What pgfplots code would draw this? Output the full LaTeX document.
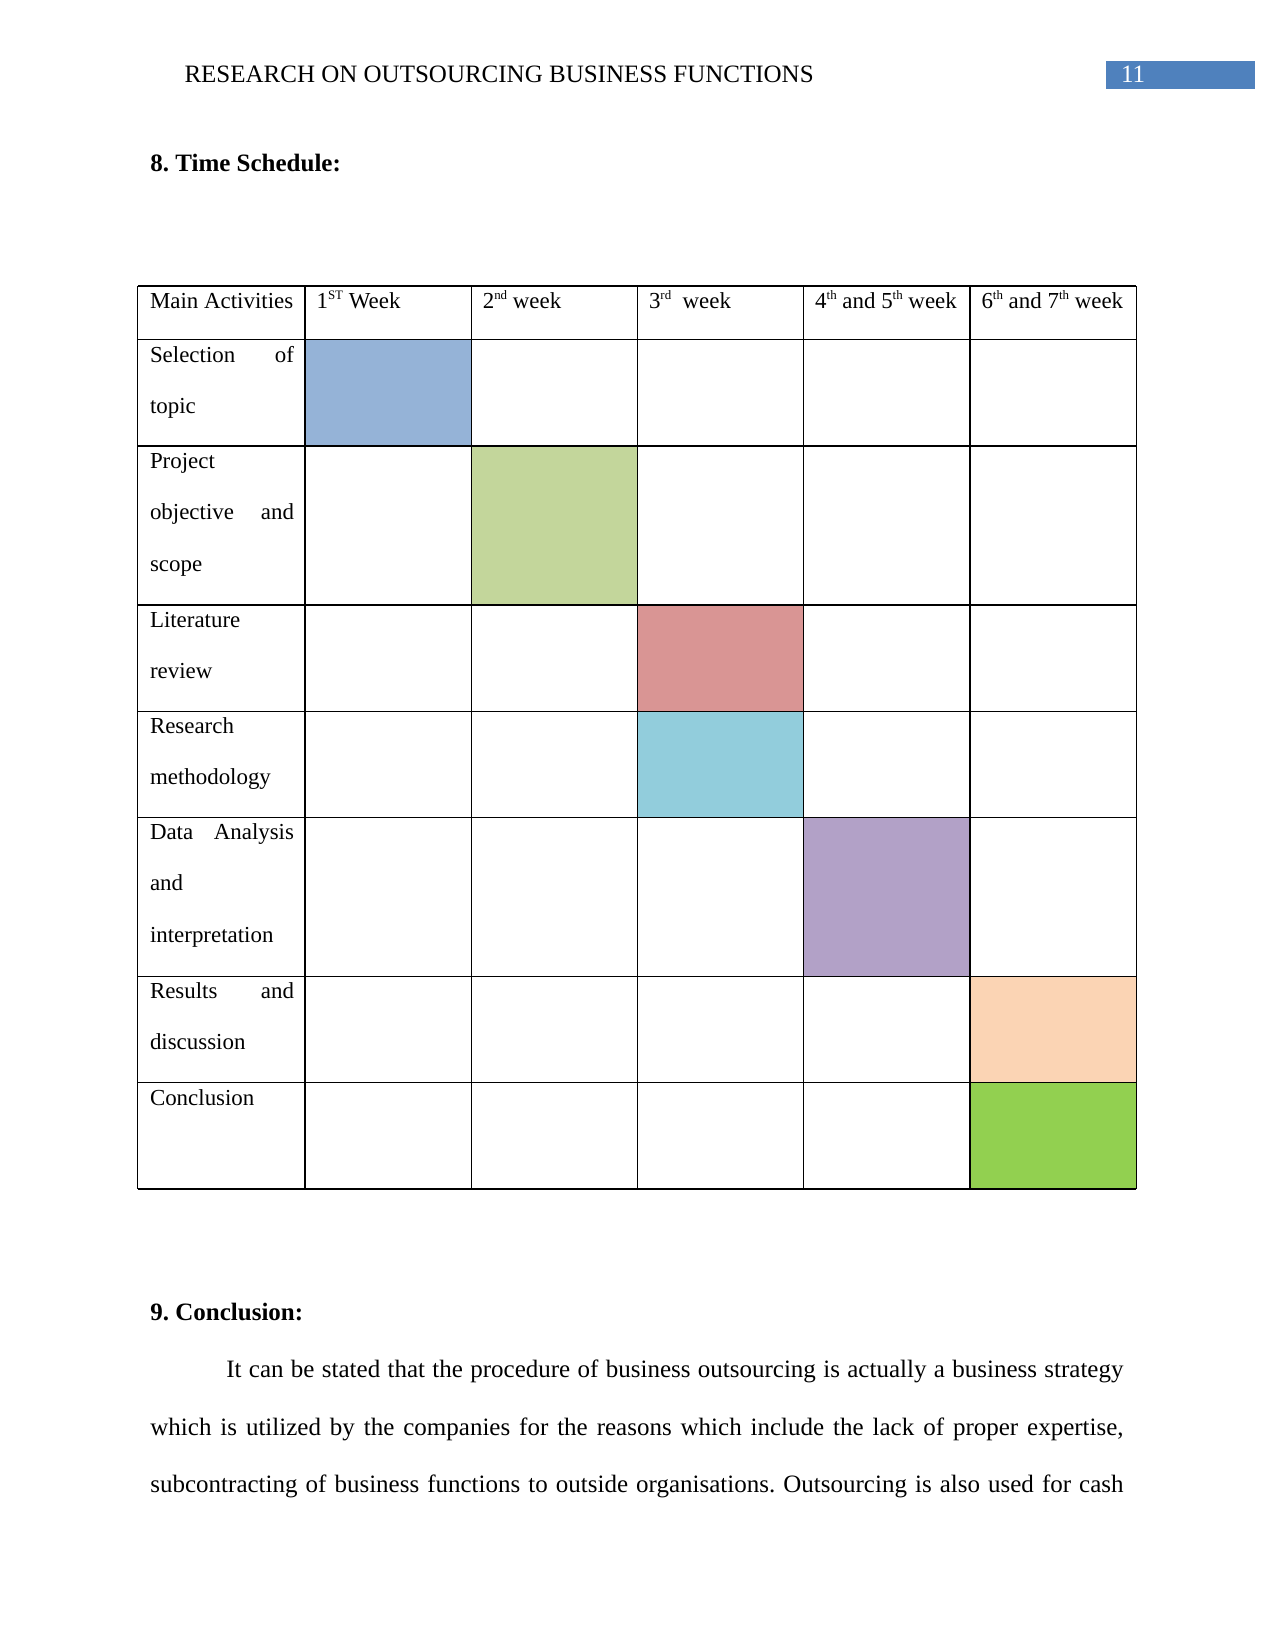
\documentclass[border=0pt]{standalone}
\usepackage{fontspec}
\setmainfont{Liberation Serif}
\usepackage{pgfplots}
\pgfplotsset{compat=1.18}
\newlength{\px}\setlength{\px}{0.0066667in}
\definecolor{cBlue}{HTML}{95B3D7}
\definecolor{cOlive}{HTML}{C3D69B}
\definecolor{cRed}{HTML}{D99594}
\definecolor{cAqua}{HTML}{92CDDC}
\definecolor{cPurple}{HTML}{B2A1C7}
\definecolor{cPeach}{HTML}{FBD4B4}
\definecolor{cGreen}{HTML}{92D050}
\definecolor{cHead}{HTML}{4F81BD}
\newcommand{\sz}{\fontsize{12bp}{14bp}\selectfont\frenchspacing}
\newcommand{\tsz}{\fontsize{11bp}{13bp}\selectfont\frenchspacing}
\newcommand{\wsup}[1]{\raisebox{4.2bp}{\fontsize{6.2bp}{7bp}\selectfont #1}}
\begin{document}
\begin{tikzpicture}[txt/.style={inner sep=0pt, outer sep=0pt, font=\sz, anchor=base west},
                    cell/.style={txt, font=\tsz}]
\fill[white, use as bounding box] (0,0) rectangle (8.5in,11in);
\begin{axis}[
  at={(0,0)}, anchor=south west,
  width=8.5in, height=11in, scale only axis,
  xmin=0, xmax=1275, ymin=0, ymax=1650, y dir=reverse,
  hide axis, clip=false,
]
% page-number box
\addplot[fill=cHead, draw=none] coordinates {(1106,61)(1255,61)(1255,89)(1106,89)} -- cycle;
% coloured cells (week x activity)
\addplot[fill=cBlue,   draw=none] coordinates {(305.1,339.8)(471.3,339.8)(471.3,446.0)(305.1,446.0)} -- cycle;
\addplot[fill=cOlive,  draw=none] coordinates {(471.3,446.0)(637.5,446.0)(637.5,604.9)(471.3,604.9)} -- cycle;
\addplot[fill=cRed,    draw=none] coordinates {(637.5,604.9)(803.7,604.9)(803.7,711.2)(637.5,711.2)} -- cycle;
\addplot[fill=cAqua,   draw=none] coordinates {(637.5,711.2)(803.7,711.2)(803.7,817.4)(637.5,817.4)} -- cycle;
\addplot[fill=cPurple, draw=none] coordinates {(803.7,817.4)(970.0,817.4)(970.0,976.3)(803.7,976.3)} -- cycle;
\addplot[fill=cPeach,  draw=none] coordinates {(970.0,976.3)(1136.2,976.3)(1136.2,1082.5)(970.0,1082.5)} -- cycle;
\addplot[fill=cGreen,  draw=none] coordinates {(970.0,1082.5)(1136.2,1082.5)(1136.2,1189.0)(970.0,1189.0)} -- cycle;
% horizontal rules
\addplot[black, line width=0.6pt] coordinates {(137.8,286.1)(1136.2,286.1)};
\addplot[black, line width=0.6pt] coordinates {(137.8,339.8)(1136.2,339.8)};
\addplot[black, line width=0.6pt] coordinates {(137.8,446.0)(1136.2,446.0)};
\addplot[black, line width=0.6pt] coordinates {(137.8,604.9)(1136.2,604.9)};
\addplot[black, line width=0.6pt] coordinates {(137.8,711.2)(1136.2,711.2)};
\addplot[black, line width=0.6pt] coordinates {(137.8,817.4)(1136.2,817.4)};
\addplot[black, line width=0.6pt] coordinates {(137.8,976.3)(1136.2,976.3)};
\addplot[black, line width=0.6pt] coordinates {(137.8,1082.5)(1136.2,1082.5)};
\addplot[black, line width=0.9pt] coordinates {(137.8,1189.0)(1136.2,1189.0)};
% vertical rules
\addplot[black, line width=0.6pt] coordinates {(137.8,286.1)(137.8,1189.0)};
\addplot[black, line width=0.9pt] coordinates {(305.1,286.1)(305.1,1189.0)};
\addplot[black, line width=0.6pt] coordinates {(471.3,286.1)(471.3,1189.0)};
\addplot[black, line width=0.6pt] coordinates {(637.5,286.1)(637.5,1189.0)};
\addplot[black, line width=0.6pt] coordinates {(803.7,286.1)(803.7,1189.0)};
\addplot[black, line width=0.9pt] coordinates {(970.0,286.1)(970.0,1189.0)};
\addplot[black, line width=0.6pt] coordinates {(1136.2,286.1)(1136.2,1189.0)};

% running head
\node[txt] at (axis cs:184.5,82.5) {RESEARCH ON OUTSOURCING BUSINESS FUNCTIONS};
\node[txt, text=white] at (axis cs:1121,82.5) {11};
\node[txt] at (axis cs:150.4,171.7) {\bfseries 8. Time Schedule:};

% header row
\node[cell] at (axis cs:150,308.3) {Main Activities};
\node[cell] at (axis cs:316.6,308.3) {1\wsup{ST} Week};
\node[cell] at (axis cs:482.8,308.3) {2\wsup{nd} week};
\node[cell] at (axis cs:649.0,308.3) {3\wsup{rd}\ \ week};
\node[cell] at (axis cs:815.2,308.3) {4\wsup{th} and 5\wsup{th} week};
\node[cell] at (axis cs:981.5,308.3) {6\wsup{th} and 7\wsup{th} week};

% activity column
\node[cell] at (axis cs:150,362) {\makebox[144\px][s]{Selection of}};
\node[cell] at (axis cs:150,413.7) {topic};
\node[cell] at (axis cs:150,468) {Project};
\node[cell] at (axis cs:150,519.7) {\makebox[144\px][s]{objective and}};
\node[cell] at (axis cs:150,571.4) {scope};
\node[cell] at (axis cs:150,627) {Literature};
\node[cell] at (axis cs:150,678.7) {review};
\node[cell] at (axis cs:150,733) {Research};
\node[cell] at (axis cs:150,784.7) {methodology};
\node[cell] at (axis cs:150,839) {\makebox[144\px][s]{Data Analysis}};
\node[cell] at (axis cs:150,890.7) {and};
\node[cell] at (axis cs:150,942.4) {interpretation};
\node[cell] at (axis cs:150,998) {\makebox[144\px][s]{Results and}};
\node[cell] at (axis cs:150,1049.7) {discussion};
\node[cell] at (axis cs:150,1105) {Conclusion};

% conclusion section
\node[txt] at (axis cs:150.4,1320.5) {\bfseries 9. Conclusion:};
\node[txt] at (axis cs:226.3,1377.7) {\makebox[897\px][s]{It can be stated that the procedure of business outsourcing is actually a business strategy}};
\node[txt] at (axis cs:150.4,1435) {\makebox[973\px][s]{which is utilized by the companies for the reasons which include the lack of proper expertise,}};
\node[txt] at (axis cs:150.4,1492.3) {\makebox[973\px][s]{subcontracting of business functions to outside organisations. Outsourcing is also used for cash}};
\end{axis}
\end{tikzpicture}
\end{document}
